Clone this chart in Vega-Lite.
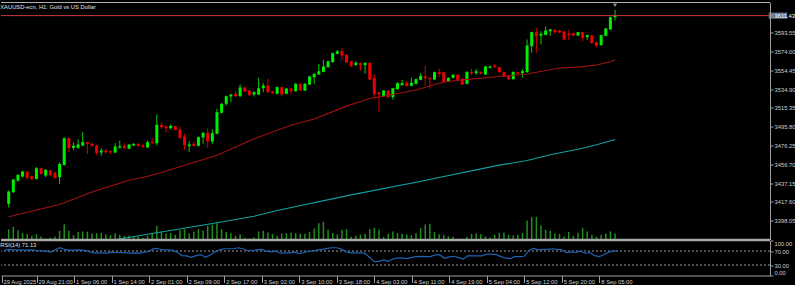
{
"$schema": "https://vega.github.io/schema/vega-lite/v6.json",
"background": "#000000",
"padding": {"left": 0, "top": 1.5, "right": 0, "bottom": 0},
"bounds": "flush",
"spacing": 1,
"config": {
  "view": {"stroke": null},
  "font": "Liberation Sans",
  "axis": {"labelFont": "Liberation Sans", "labelFontSize": 5.8, "labelColor": "#cfcfcf", "domainColor": "#a0a0a0", "tickColor": "#a0a0a0", "grid": false, "title": null},
  "title": {"font": "Liberation Sans", "fontSize": 5.8, "fontWeight": "normal", "color": "#e0e0e0", "anchor": "start"}
},
"datasets": {
"bars": [
{"i":0,"o":3415.7,"h":3429.5,"l":3412.2,"c":3428.5,"v":5177,"r":71.5},
{"i":1,"o":3427.8,"h":3441.6,"l":3427.0,"c":3440.9,"v":6346,"r":74.4},
{"i":2,"o":3439.9,"h":3446.5,"l":3438.5,"c":3445.8,"v":4676,"r":73.4},
{"i":3,"o":3444.1,"h":3450.0,"l":3443.0,"c":3449.3,"v":3173,"r":73.4},
{"i":4,"o":3449.3,"h":3449.8,"l":3440.6,"c":3442.7,"v":2672,"r":73.4},
{"i":5,"o":3444.1,"h":3445.0,"l":3440.5,"c":3441.6,"v":1837,"r":72.5},
{"i":6,"o":3441.6,"h":3454.0,"l":3441.0,"c":3452.7,"v":2672,"r":73.4},
{"i":7,"o":3452.7,"h":3453.5,"l":3446.0,"c":3446.8,"v":1503,"r":71.5},
{"i":8,"o":3445.1,"h":3452.0,"l":3443.4,"c":3451.0,"v":501,"r":70.5},
{"i":9,"o":3450.3,"h":3451.0,"l":3444.5,"c":3445.8,"v":835,"r":69.6},
{"i":10,"o":3448.2,"h":3449.0,"l":3441.5,"c":3442.7,"v":1503,"r":66.6},
{"i":11,"o":3443.4,"h":3459.0,"l":3436.4,"c":3457.2,"v":4342,"r":73.4},
{"i":12,"o":3456.2,"h":3485.0,"l":3455.5,"c":3484.0,"v":7682,"r":79.3},
{"i":13,"o":3484.0,"h":3484.5,"l":3469.4,"c":3473.6,"v":4342,"r":74.4},
{"i":14,"o":3473.9,"h":3479.8,"l":3471.8,"c":3476.0,"v":2171,"r":72.5},
{"i":15,"o":3473.9,"h":3482.6,"l":3473.0,"c":3477.4,"v":3841,"r":72.5},
{"i":16,"o":3476.4,"h":3490.2,"l":3475.5,"c":3479.8,"v":4008,"r":73.4},
{"i":17,"o":3479.8,"h":3480.5,"l":3467.7,"c":3478.1,"v":3841,"r":72.5},
{"i":18,"o":3478.1,"h":3479.0,"l":3475.0,"c":3476.0,"v":3006,"r":69.6},
{"i":19,"o":3476.4,"h":3477.0,"l":3466.6,"c":3468.7,"v":3173,"r":64.7},
{"i":20,"o":3469.0,"h":3473.6,"l":3465.9,"c":3471.1,"v":3340,"r":64.7},
{"i":21,"o":3471.1,"h":3472.9,"l":3467.7,"c":3469.4,"v":2672,"r":64.7},
{"i":22,"o":3470.4,"h":3471.0,"l":3467.7,"c":3469.4,"v":2171,"r":63.7},
{"i":23,"o":3469.0,"h":3478.8,"l":3468.5,"c":3475.3,"v":3173,"r":66.6},
{"i":24,"o":3474.3,"h":3481.5,"l":3472.9,"c":3475.7,"v":2338,"r":65.7},
{"i":25,"o":3475.7,"h":3478.8,"l":3473.0,"c":3473.6,"v":1837,"r":65.7},
{"i":26,"o":3472.9,"h":3478.0,"l":3472.5,"c":3477.4,"v":1837,"r":64.7},
{"i":27,"o":3476.4,"h":3478.8,"l":3476.0,"c":3478.1,"v":1169,"r":63.7},
{"i":28,"o":3478.1,"h":3478.6,"l":3475.2,"c":3475.7,"v":1503,"r":64.7},
{"i":29,"o":3476.4,"h":3478.1,"l":3474.2,"c":3474.6,"v":835,"r":63.7},
{"i":30,"o":3474.3,"h":3481.5,"l":3474.0,"c":3479.8,"v":1837,"r":66.6},
{"i":31,"o":3480.2,"h":3484.3,"l":3478.1,"c":3478.8,"v":3173,"r":68.6},
{"i":32,"o":3478.8,"h":3508.6,"l":3476.4,"c":3497.8,"v":6847,"r":77.3},
{"i":33,"o":3497.8,"h":3500.6,"l":3493.7,"c":3495.4,"v":4008,"r":76.4},
{"i":34,"o":3496.1,"h":3496.8,"l":3490.2,"c":3494.4,"v":3006,"r":73.4},
{"i":35,"o":3494.4,"h":3498.2,"l":3493.0,"c":3496.8,"v":3173,"r":73.4},
{"i":36,"o":3496.5,"h":3497.0,"l":3492.0,"c":3492.6,"v":2338,"r":72.5},
{"i":37,"o":3493.0,"h":3495.4,"l":3483.3,"c":3484.3,"v":4676,"r":66.6},
{"i":38,"o":3485.7,"h":3488.5,"l":3471.8,"c":3476.7,"v":5177,"r":56.9},
{"i":39,"o":3475.7,"h":3480.8,"l":3469.4,"c":3477.4,"v":3006,"r":55.9},
{"i":40,"o":3478.1,"h":3480.5,"l":3475.5,"c":3476.0,"v":3841,"r":52.0},
{"i":41,"o":3476.0,"h":3485.7,"l":3475.5,"c":3485.0,"v":5177,"r":56.9},
{"i":42,"o":3484.7,"h":3490.2,"l":3478.1,"c":3489.5,"v":4509,"r":59.8},
{"i":43,"o":3489.5,"h":3493.7,"l":3473.9,"c":3480.5,"v":6847,"r":52.0},
{"i":44,"o":3480.5,"h":3493.0,"l":3478.1,"c":3489.2,"v":7515,"r":57.9},
{"i":45,"o":3488.5,"h":3514.5,"l":3488.0,"c":3511.0,"v":8183,"r":67.6},
{"i":46,"o":3510.3,"h":3520.5,"l":3510.0,"c":3519.7,"v":5177,"r":73.4},
{"i":47,"o":3519.7,"h":3528.3,"l":3517.9,"c":3527.6,"v":3841,"r":76.4},
{"i":48,"o":3527.3,"h":3530.0,"l":3521.4,"c":3529.4,"v":3173,"r":76.4},
{"i":49,"o":3530.1,"h":3532.8,"l":3527.0,"c":3527.6,"v":1837,"r":76.4},
{"i":50,"o":3527.6,"h":3539.8,"l":3527.0,"c":3536.7,"v":2672,"r":79.3},
{"i":51,"o":3536.7,"h":3537.5,"l":3532.0,"c":3532.5,"v":835,"r":76.4},
{"i":52,"o":3533.5,"h":3534.5,"l":3528.0,"c":3528.7,"v":501,"r":71.5},
{"i":53,"o":3529.4,"h":3532.5,"l":3527.3,"c":3531.8,"v":1169,"r":71.5},
{"i":54,"o":3529.4,"h":3546.7,"l":3529.0,"c":3535.9,"v":4008,"r":73.4},
{"i":55,"o":3535.9,"h":3541.2,"l":3531.8,"c":3538.7,"v":4342,"r":74.4},
{"i":56,"o":3538.7,"h":3545.7,"l":3531.3,"c":3531.8,"v":3507,"r":69.6},
{"i":57,"o":3532.5,"h":3533.0,"l":3530.3,"c":3530.8,"v":2839,"r":67.6},
{"i":58,"o":3530.1,"h":3537.7,"l":3529.7,"c":3537.0,"v":1837,"r":69.6},
{"i":59,"o":3537.0,"h":3537.5,"l":3527.3,"c":3529.4,"v":2839,"r":63.7},
{"i":60,"o":3530.1,"h":3536.2,"l":3529.7,"c":3535.6,"v":3173,"r":64.7},
{"i":61,"o":3535.6,"h":3536.0,"l":3530.1,"c":3532.8,"v":3507,"r":64.7},
{"i":62,"o":3532.8,"h":3541.2,"l":3532.3,"c":3540.5,"v":3173,"r":66.6},
{"i":63,"o":3540.5,"h":3541.0,"l":3533.0,"c":3533.5,"v":2839,"r":62.7},
{"i":64,"o":3533.5,"h":3541.2,"l":3533.0,"c":3540.5,"v":2839,"r":65.7},
{"i":65,"o":3539.8,"h":3548.8,"l":3539.3,"c":3548.1,"v":3841,"r":68.6},
{"i":66,"o":3547.4,"h":3551.5,"l":3540.5,"c":3550.9,"v":5511,"r":70.5},
{"i":67,"o":3550.2,"h":3561.3,"l":3549.8,"c":3553.6,"v":8183,"r":73.4},
{"i":68,"o":3552.9,"h":3565.4,"l":3552.5,"c":3558.5,"v":8851,"r":74.4},
{"i":69,"o":3557.8,"h":3564.7,"l":3557.3,"c":3564.0,"v":4843,"r":77.3},
{"i":70,"o":3563.0,"h":3573.0,"l":3562.5,"c":3572.4,"v":3173,"r":79.3},
{"i":71,"o":3571.7,"h":3575.5,"l":3571.2,"c":3574.4,"v":2505,"r":79.3},
{"i":72,"o":3574.4,"h":3577.9,"l":3565.4,"c":3569.9,"v":4843,"r":75.4},
{"i":73,"o":3570.6,"h":3571.2,"l":3562.2,"c":3562.7,"v":5177,"r":67.6},
{"i":74,"o":3564.0,"h":3564.5,"l":3558.3,"c":3558.8,"v":1336,"r":64.7},
{"i":75,"o":3559.9,"h":3564.0,"l":3559.5,"c":3562.3,"v":1837,"r":64.7},
{"i":76,"o":3562.0,"h":3562.5,"l":3554.3,"c":3559.9,"v":2505,"r":64.7},
{"i":77,"o":3559.9,"h":3562.7,"l":3550.9,"c":3562.3,"v":2839,"r":63.7},
{"i":78,"o":3562.3,"h":3562.8,"l":3544.5,"c":3545.0,"v":5177,"r":52.0},
{"i":79,"o":3546.4,"h":3550.2,"l":3526.6,"c":3530.1,"v":5845,"r":39.4},
{"i":80,"o":3531.5,"h":3532.0,"l":3511.0,"c":3529.4,"v":5010,"r":40.4},
{"i":81,"o":3528.0,"h":3534.0,"l":3527.5,"c":3533.5,"v":1336,"r":44.3},
{"i":82,"o":3533.5,"h":3534.0,"l":3526.0,"c":3526.6,"v":2839,"r":40.4},
{"i":83,"o":3526.6,"h":3536.4,"l":3524.2,"c":3535.9,"v":4008,"r":47.2},
{"i":84,"o":3534.9,"h":3542.2,"l":3534.5,"c":3541.2,"v":3173,"r":50.1},
{"i":85,"o":3539.1,"h":3544.6,"l":3538.7,"c":3541.2,"v":2839,"r":50.1},
{"i":86,"o":3541.5,"h":3543.2,"l":3537.6,"c":3538.1,"v":2505,"r":48.1},
{"i":87,"o":3538.4,"h":3546.7,"l":3538.0,"c":3541.5,"v":2171,"r":52.0},
{"i":88,"o":3540.5,"h":3546.0,"l":3540.0,"c":3545.3,"v":3173,"r":54.0},
{"i":89,"o":3544.6,"h":3551.6,"l":3544.2,"c":3548.8,"v":5678,"r":54.9},
{"i":90,"o":3548.1,"h":3559.2,"l":3538.7,"c":3546.4,"v":7515,"r":54.0},
{"i":91,"o":3546.7,"h":3547.2,"l":3535.3,"c":3545.3,"v":7849,"r":54.0},
{"i":92,"o":3545.0,"h":3553.2,"l":3544.5,"c":3552.6,"v":3841,"r":58.8},
{"i":93,"o":3552.6,"h":3556.1,"l":3547.4,"c":3550.9,"v":2672,"r":58.8},
{"i":94,"o":3552.6,"h":3553.0,"l":3541.7,"c":3542.2,"v":2338,"r":49.1},
{"i":95,"o":3543.2,"h":3547.2,"l":3542.7,"c":3546.7,"v":1670,"r":53.0},
{"i":96,"o":3546.7,"h":3550.3,"l":3546.2,"c":3549.8,"v":1336,"r":54.9},
{"i":97,"o":3549.8,"h":3550.3,"l":3544.1,"c":3544.6,"v":501,"r":51.1},
{"i":98,"o":3545.7,"h":3546.2,"l":3539.3,"c":3539.8,"v":334,"r":47.2},
{"i":99,"o":3540.5,"h":3553.4,"l":3540.0,"c":3552.9,"v":1336,"r":56.9},
{"i":100,"o":3552.9,"h":3556.1,"l":3549.8,"c":3551.6,"v":2672,"r":55.9},
{"i":101,"o":3551.6,"h":3556.1,"l":3549.8,"c":3553.6,"v":3006,"r":55.9},
{"i":102,"o":3552.9,"h":3553.4,"l":3550.4,"c":3550.9,"v":2672,"r":55.9},
{"i":103,"o":3550.2,"h":3559.0,"l":3549.7,"c":3558.5,"v":1503,"r":60.8},
{"i":104,"o":3557.1,"h":3559.5,"l":3556.6,"c":3558.5,"v":1002,"r":60.8},
{"i":105,"o":3559.5,"h":3561.3,"l":3557.3,"c":3557.8,"v":2338,"r":59.8},
{"i":106,"o":3557.8,"h":3558.3,"l":3552.1,"c":3552.6,"v":3340,"r":54.0},
{"i":107,"o":3552.6,"h":3553.0,"l":3547.6,"c":3548.1,"v":3507,"r":50.1},
{"i":108,"o":3548.5,"h":3549.0,"l":3544.8,"c":3545.3,"v":2338,"r":48.1},
{"i":109,"o":3545.3,"h":3553.4,"l":3544.8,"c":3552.9,"v":2004,"r":54.0},
{"i":110,"o":3552.6,"h":3553.0,"l":3550.4,"c":3550.9,"v":2338,"r":54.0},
{"i":111,"o":3551.6,"h":3555.7,"l":3547.4,"c":3553.6,"v":3340,"r":54.9},
{"i":112,"o":3552.6,"h":3586.6,"l":3552.1,"c":3580.3,"v":9519,"r":71.5},
{"i":113,"o":3579.6,"h":3594.7,"l":3572.7,"c":3594.2,"v":11189,"r":77.3},
{"i":114,"o":3594.2,"h":3598.4,"l":3572.7,"c":3590.0,"v":11356,"r":73.4},
{"i":115,"o":3590.7,"h":3595.2,"l":3581.4,"c":3592.5,"v":7014,"r":74.4},
{"i":116,"o":3591.4,"h":3600.1,"l":3591.0,"c":3595.9,"v":4843,"r":74.4},
{"i":117,"o":3595.2,"h":3597.5,"l":3590.4,"c":3597.0,"v":4342,"r":76.4},
{"i":118,"o":3596.6,"h":3597.0,"l":3592.5,"c":3594.2,"v":3006,"r":74.4},
{"i":119,"o":3595.9,"h":3596.3,"l":3593.4,"c":3593.9,"v":2672,"r":73.4},
{"i":120,"o":3594.9,"h":3595.3,"l":3586.1,"c":3586.6,"v":1503,"r":65.7},
{"i":121,"o":3592.8,"h":3596.6,"l":3586.2,"c":3591.4,"v":3841,"r":67.6},
{"i":122,"o":3593.2,"h":3593.6,"l":3590.2,"c":3590.7,"v":1837,"r":65.7},
{"i":123,"o":3590.7,"h":3594.6,"l":3590.2,"c":3594.2,"v":3340,"r":69.6},
{"i":124,"o":3594.2,"h":3594.6,"l":3584.8,"c":3588.3,"v":5845,"r":63.7},
{"i":125,"o":3589.0,"h":3591.5,"l":3586.2,"c":3591.1,"v":4008,"r":65.7},
{"i":126,"o":3590.7,"h":3591.1,"l":3582.3,"c":3582.8,"v":2338,"r":56.9},
{"i":127,"o":3583.8,"h":3584.2,"l":3578.6,"c":3580.3,"v":1336,"r":54.0},
{"i":128,"o":3580.7,"h":3591.5,"l":3580.2,"c":3591.1,"v":2338,"r":59.8},
{"i":129,"o":3590.4,"h":3598.5,"l":3590.0,"c":3598.0,"v":3006,"r":66.6},
{"i":130,"o":3597.0,"h":3610.3,"l":3596.5,"c":3609.8,"v":4008,"r":69.6},
{"i":131,"o":3609.8,"h":3617.4,"l":3606.3,"c":3611.43,"v":3006,"r":71.13}
],
"ma": [
{"ma":"MA50","i":0,"p":3402.3},{"ma":"MA50","i":11,"p":3414.9},{"ma":"MA50","i":18,"p":3428.0},{"ma":"MA50","i":26,"p":3440.2},{"ma":"MA50","i":31,"p":3445.4},{"ma":"MA50","i":37,"p":3454.3},{"ma":"MA50","i":45,"p":3466.2},{"ma":"MA50","i":53,"p":3483.3},{"ma":"MA50","i":61,"p":3497.5},{"ma":"MA50","i":66,"p":3504.0},{"ma":"MA50","i":73,"p":3517.3},{"ma":"MA50","i":78,"p":3525.2},{"ma":"MA50","i":81,"p":3527.5},{"ma":"MA50","i":88,"p":3534.0},{"ma":"MA50","i":94,"p":3542.3},{"ma":"MA50","i":98,"p":3544.6},{"ma":"MA50","i":106,"p":3548.1},{"ma":"MA50","i":112,"p":3550.7},{"ma":"MA50","i":119,"p":3556.9},{"ma":"MA50","i":123,"p":3557.8},{"ma":"MA50","i":127,"p":3560.0},{"ma":"MA50","i":130,"p":3563.5},{"ma":"MA50","i":131,"p":3565.5},
{"ma":"MA200","i":23,"p":3378.3},{"ma":"MA200","i":31,"p":3384.8},{"ma":"MA200","i":45,"p":3396.0},{"ma":"MA200","i":53,"p":3402.8},{"ma":"MA200","i":58,"p":3408.7},{"ma":"MA200","i":74,"p":3425.0},{"ma":"MA200","i":88,"p":3438.2},{"ma":"MA200","i":106,"p":3455.9},{"ma":"MA200","i":112,"p":3460.8},{"ma":"MA200","i":117,"p":3466.7},{"ma":"MA200","i":124,"p":3473.5},{"ma":"MA200","i":127,"p":3477.1},{"ma":"MA200","i":131,"p":3482.6}
]
},
"vconcat": [
{
  "width": 769, "height": 237,
  "title": {"text": "XAUUSD-ecn, H1:  Gold vs US Dollar", "offset": -8},
  "resolve": {"scale": {"y": "independent"}},
  "layer": [
    {
      "data": {"name": "bars"},
      "mark": {"type": "bar", "color": "#1f8f1f", "size": 1.5},
      "encoding": {
        "x": {"field": "i", "type": "quantitative", "scale": {"domain": [-0.58, 163.4], "nice": false, "zero": false}, "axis": null},
        "y": {"field": "v", "type": "quantitative", "scale": {"domain": [0, 118500], "nice": false}, "axis": null}
      }
    },
    {
      "layer": [
        {
          "data": {"name": "bars"},
          "mark": {"type": "rule", "strokeWidth": 1},
          "encoding": {
            "x": {"field": "i", "type": "quantitative", "scale": {"domain": [-0.58, 163.4], "nice": false, "zero": false}, "axis": null},
            "y": {"field": "l", "type": "quantitative", "scale": {"domain": [3378.6, 3625.05], "nice": false, "zero": false},
                  "axis": {"orient": "right", "values": [3398.05, 3417.6, 3437.15, 3456.7, 3476.25, 3495.8, 3515.35, 3534.9, 3554.45, 3574.0, 3593.55, 3611.43], "tickCount": 40, "format": ".2f", "tickSize": 3, "labelPadding": 1, "labelOverlap": false, "zindex": 1,
                           "labelColor": {"condition": {"test": "datum.value > 3600", "value": "#ffffff"}, "value": "#cfcfcf"}}},
            "y2": {"field": "h"},
            "color": {"condition": {"test": "datum.c >= datum.o", "value": "#00d200"}, "value": "#d80000"}
          }
        },
        {
          "data": {"name": "bars"},
          "mark": {"type": "bar", "size": 3},
          "encoding": {
            "x": {"field": "i", "type": "quantitative", "scale": {"domain": [-0.58, 163.4], "nice": false, "zero": false}, "axis": null},
            "y": {"field": "o", "type": "quantitative", "scale": {"domain": [3378.6, 3625.05], "nice": false, "zero": false}},
            "y2": {"field": "c"},
            "color": {"condition": {"test": "datum.c >= datum.o", "value": "#00ee00"}, "value": "#ee0000"}
          }
        },
        {
          "data": {"name": "ma"},
          "mark": {"type": "line", "strokeWidth": 1.1, "clip": true},
          "encoding": {
            "x": {"field": "i", "type": "quantitative", "scale": {"domain": [-0.58, 163.4], "nice": false, "zero": false}, "axis": null},
            "y": {"field": "p", "type": "quantitative", "scale": {"domain": [3378.6, 3625.05], "nice": false, "zero": false}},
            "color": {"field": "ma", "type": "nominal", "scale": {"domain": ["MA50", "MA200"], "range": ["#9e1212", "#12a0a0"]}, "legend": null}
          }
        },
        {
          "data": {"values": [{}]},
          "mark": {"type": "rect", "color": "#64768f"},
          "encoding": {
            "x": {"datum": 164.2, "scale": {"domain": [-0.58, 163.4], "nice": false, "zero": false}},
            "x2": {"datum": 168.2},
            "y": {"datum": 3614.6},
            "y2": {"datum": 3608.2}
          }
        },
        {
          "data": {"values": [{}]},
          "mark": {"type": "rule", "color": "#c8393b", "strokeWidth": 1},
          "encoding": {"y": {"datum": 3611.43}}
        },
        {
          "data": {"values": [{}]},
          "mark": {"type": "rule", "color": "#b0b0b0", "strokeWidth": 1},
          "encoding": {"y": {"datum": 3625.05}}
        },
        {
          "data": {"values": [{}]},
          "mark": {"type": "rule", "color": "#a8a8a8", "strokeWidth": 1.5},
          "encoding": {"y": {"datum": 3378.6}}
        },
        {
          "data": {"values": [{}]},
          "mark": {"type": "point", "shape": "triangle-down", "filled": true, "color": "#909090", "size": 16, "opacity": 1},
          "encoding": {"x": {"datum": 131}, "y": {"datum": 3622.3}}
        }
      ]
    }
  ]
},
{
  "width": 769, "height": 35,
  "title": {"text": "RSI(14) 71.13", "offset": -8},
  "layer": [
    {
      "data": {"values": [{}]},
      "mark": {"type": "rule", "color": "#9a9a9a", "strokeDash": [2, 2], "strokeWidth": 1},
      "encoding": {"y": {"datum": 70, "scale": {"domain": [0, 100], "nice": false}}}
    },
    {
      "data": {"values": [{}]},
      "mark": {"type": "rule", "color": "#9a9a9a", "strokeDash": [2, 2], "strokeWidth": 1},
      "encoding": {"y": {"datum": 30}}
    },
    {
      "data": {"values": [{}]},
      "mark": {"type": "rule", "color": "#a8a8a8", "strokeWidth": 1.5},
      "encoding": {"y": {"datum": 100}}
    },
    {
      "data": {"name": "bars"},
      "mark": {"type": "line", "color": "#1f62b0", "strokeWidth": 1.2},
      "encoding": {
        "x": {"field": "i", "type": "quantitative", "scale": {"domain": [-0.58, 163.4], "nice": false, "zero": false},
              "axis": {"orient": "bottom", "values": [-0.45, 7, 15, 23, 31, 39, 47, 55, 63, 71, 79, 87, 95, 103, 111, 119, 127], "tickCount": 60,
                       "labelExpr": "datum.value < 0 ? '29 Aug 2025' : ['29 Aug 21:00','1 Sep 06:00','1 Sep 14:00','2 Sep 01:00','2 Sep 09:00','2 Sep 17:00','3 Sep 02:00','3 Sep 10:00','3 Sep 18:00','4 Sep 03:00','4 Sep 11:00','4 Sep 19:00','5 Sep 04:00','5 Sep 12:00','5 Sep 20:00','8 Sep 05:00'][round((datum.value - 7) / 8)]",
                       "labelAlign": "left", "labelOffset": 1.5, "labelPadding": -4, "tickSize": 7, "labelOverlap": false, "labelBound": false}},
        "y": {"field": "r", "type": "quantitative", "scale": {"domain": [0, 100], "nice": false},
              "axis": {"orient": "right", "values": [0, 30, 70, 100], "tickCount": 10, "format": ".2f", "labelFlush": true, "labelOverlap": false, "tickSize": 3, "labelPadding": 1}}
      }
    }
  ]
}
]
}
